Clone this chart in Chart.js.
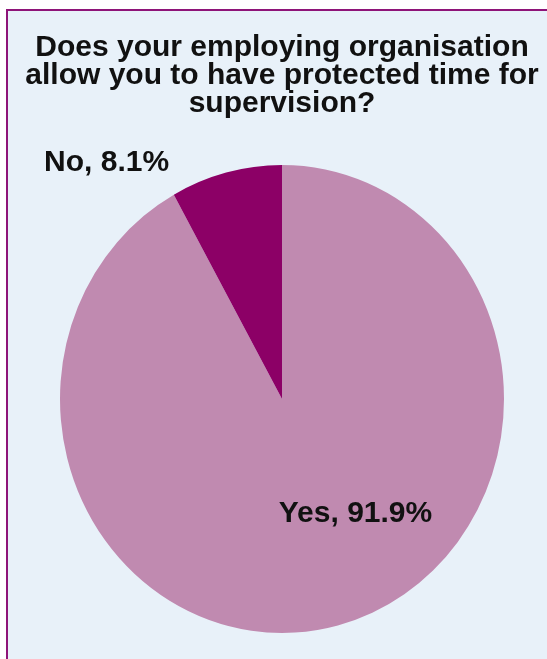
<!doctype html>
<html>
<head>
  <meta charset="utf-8">
  <title>Protected time for supervision</title>
  <script src="https://cdn.jsdelivr.net/npm/chart.js"></script>
  <style>
    body { margin: 0; background: #fff; }
    #box {
      position: absolute; left: 6px; top: 9px; width: 541px; height: 650px;
      box-sizing: border-box; background: #e8f1f9;
      border-top: 2px solid #8e1479; border-left: 2px solid #8e1479;
    }
    #chart { position: absolute; left: 0; top: 0; }
  </style>
</head>
<body>
  <div id="box"></div>
  <canvas id="chart" width="547" height="659"></canvas>
  <script>
    const titleLines = ['Does your employing organisation', 'allow you to have protected time for', 'supervision?'];
    const categories = ['Yes', 'No'];
    const values = [91.9, 8.1];
    const colors = ['#c08ab0', '#8c0066'];

    const FONT = 'Liberation Sans, Arial, sans-serif';
    const yStretch = 234 / 222;   // the pie in the picture is slightly taller than wide
    // label anchor, as a fraction of the radius from the pie centre
    const labelOffsets = [{ dx: 0.331, dy: 0.552 }, { dx: -0.79, dy: -1.028 }];

    const stretchPie = {
      id: 'stretchPie',
      beforeDatasetsDraw(chart) {
        const arc = chart.getDatasetMeta(0).data[0];
        const ctx = chart.ctx;
        ctx.save();
        ctx.translate(arc.x, arc.y);
        ctx.scale(1, yStretch);
        ctx.translate(-arc.x, -arc.y);
      },
      afterDatasetsDraw(chart) {
        chart.ctx.restore();
      }
    };

    const sliceLabels = {
      id: 'sliceLabels',
      afterDraw(chart) {
        const ctx = chart.ctx;
        ctx.save();
        ctx.font = 'bold 30px ' + FONT;
        ctx.fillStyle = '#111';
        ctx.textAlign = 'center';
        ctx.textBaseline = 'alphabetic';
        chart.getDatasetMeta(0).data.forEach((arc, i) => {
          const r = arc.outerRadius;
          const off = labelOffsets[i];
          ctx.fillText(categories[i] + ', ' + values[i] + '%', arc.x + off.dx * r, arc.y + off.dy * r);
        });
        ctx.restore();
      }
    };

    new Chart(document.getElementById('chart'), {
      type: 'pie',
      data: {
        labels: categories,
        datasets: [{ data: values, backgroundColor: colors, borderWidth: 0 }]
      },
      options: {
        responsive: false,
        animation: false,
        layout: { padding: { left: 17, right: 0, top: 0, bottom: 38 } },
        plugins: {
          legend: { display: false },
          tooltip: { enabled: false },
          title: {
            display: true,
            text: titleLines,
            color: '#111',
            font: { family: FONT, size: 30, weight: 'bold', lineHeight: 28 / 30 },
            padding: { top: 33.5, bottom: 59.5 }
          }
        }
      },
      plugins: [stretchPie, sliceLabels]
    });
  </script>
</body>
</html>
